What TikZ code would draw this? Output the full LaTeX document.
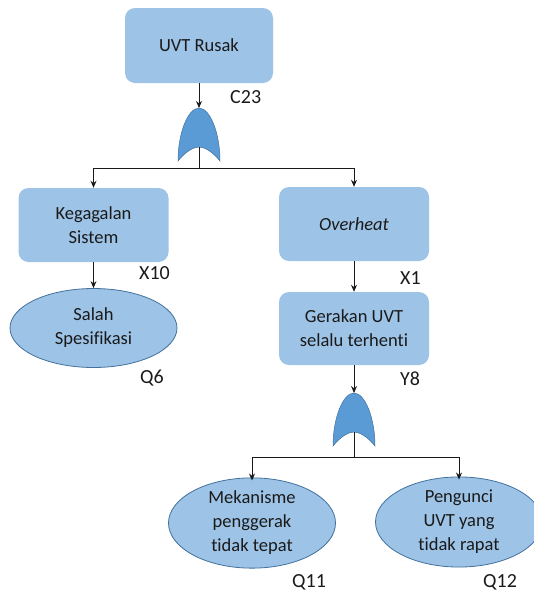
\documentclass[tikz,border=0pt]{standalone}
\usepackage{fontspec}
\setmainfont{Carlito}[Ligatures=NoCommon]
\usetikzlibrary{shapes.geometric,arrows.meta}

\definecolor{boxfill}{HTML}{9DC3E6}
\definecolor{edgeblue}{HTML}{41719C}
\definecolor{gatefill}{HTML}{5B9BD5}
\definecolor{ink}{HTML}{1A1A1A}

\tikzset{
  event/.style={rectangle, rounded corners=10pt, fill=boxfill, draw=none,
    minimum width=150pt, minimum height=74pt, align=center, inner sep=0pt,
    text=ink, font=\fontsize{18.5}{24}\selectfont},
  basic/.style={ellipse, fill=boxfill, draw=edgeblue, line width=0.8pt,
    minimum width=167pt, minimum height=79pt, align=center, inner sep=0pt,
    text=ink, font=\fontsize{18.5}{24}\selectfont},
  code/.style={anchor=base west, inner sep=0pt, text=ink,
    font=\fontsize{20}{24}\selectfont},
  conn/.style={draw=ink, line width=1pt},
  arr/.style={conn, -{Stealth[length=7pt,width=6pt]}},
  orgate/.pic={
    \path[fill=gatefill, draw=edgeblue, line width=0.5pt]
      (-21,53) .. controls (-21,25) and (-11,0) .. (0,0)
      .. controls (11,0) and (21,25) .. (21,53)
      .. controls (13,43) and (5,39) .. (0,39)
      .. controls (-5,39) and (-13,43) .. (-21,53) -- cycle;
  }
}

\begin{document}
\begin{tikzpicture}[x=1pt, y=-1pt]
  \useasboundingbox (0,0) rectangle (534,592);

  % events
  \node[event, minimum width=148pt, minimum height=75pt] (top) at (199,45.5) {UVT Rusak};
  \node[event] (kg) at (93.5,225) {Kegagalan\\Sistem};
  \node[event] (oh) at (354,224) {\itshape Overheat};
  \node[event, minimum height=73pt] (gr) at (354,328.5) {Gerakan UVT\\selalu terhenti};

  % basic events
  \node[basic] (ss) at (93.5,328) {Salah\\Spesifikasi};
  \node[basic, minimum height=77pt] (mk) at (252,523) {Mekanisme\\penggerak\\tidak tepat};
  \node[basic, minimum height=77pt] (pk) at (459,522) {Pengunci\\UVT yang\\tidak rapat};

  % OR gates
  \pic at (199,108) {orgate};
  \pic at (354,393) {orgate};
  \coordinate (g1in) at (199,108);
  \coordinate (g1out) at (199,147);
  \coordinate (g1bar) at (199,168);
  \coordinate (g2in) at (354,393);
  \coordinate (g2out) at (354,432);
  \coordinate (g2bar) at (354,457);

  % codes
  \node[code] (c23) at (230,103) {C23};
  \node[code] (x10) at (139,279) {X10};
  \node[code] (q6) at (140,383) {Q6};
  \node[code] (x1) at (400,284) {X1};
  \node[code] (y8) at (400,385) {Y8};
  \node[code] (q11) at (292,587) {Q11};
  \node[code] (q12) at (483,587) {Q12};

  % connectors
  \draw[arr] (top.south) -- (g1in);
  \draw[conn] (g1out) -- (g1bar);
  \draw[arr] (g1bar) -| (kg.north);
  \draw[arr] (g1bar) -| (oh.north);
  \draw[arr] (kg.south) -- (ss.north);
  \draw[arr] (oh.south) -- (gr.north);
  \draw[arr] (gr.south) -- (g2in);
  \draw[conn] (g2out) -- (g2bar);
  \draw[arr] (g2bar) -| ([yshift=-3pt]mk.north);
  \draw[arr] (g2bar) -| ([yshift=-3pt]pk.north);
\end{tikzpicture}
\end{document}
